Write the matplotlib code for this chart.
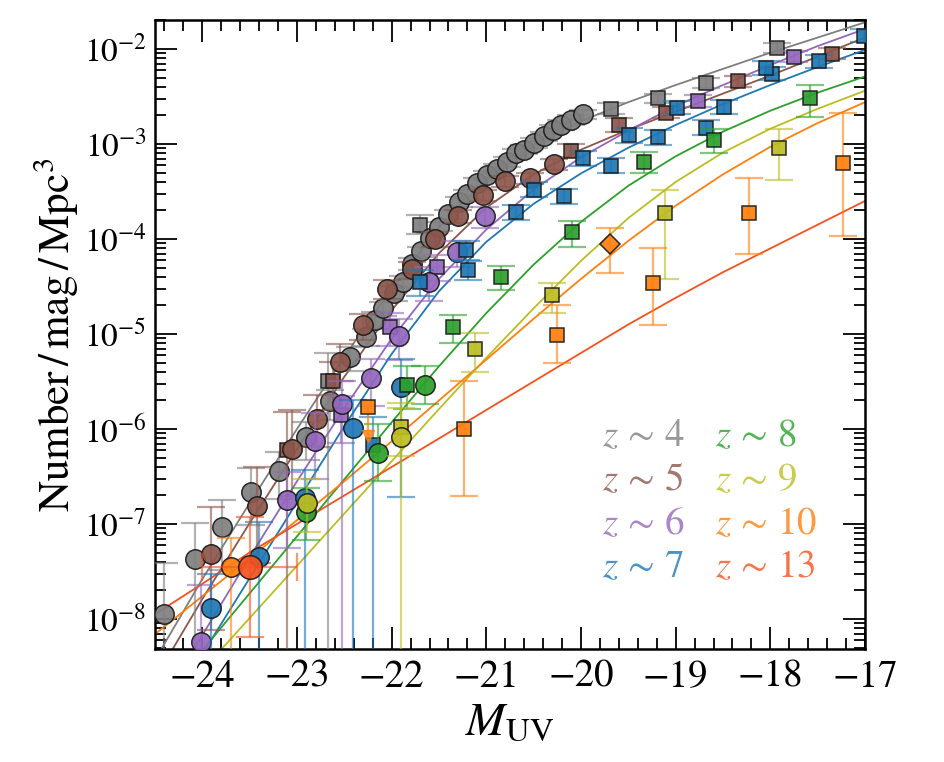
import numpy as np
import matplotlib
matplotlib.use("Agg")
import matplotlib.pyplot as plt
from matplotlib.ticker import FixedLocator, FuncFormatter, NullFormatter

plt.rcParams['font.family'] = 'STIXGeneral'
plt.rcParams['mathtext.fontset'] = 'stix'

# ----------------------------------------------------------------------
# data: M_UV and log10(phi); errors in dex (lo, hi). lo=5 -> bar runs off the bottom
# ----------------------------------------------------------------------
z4_circ_M = [-24.40, -24.08, -23.79, -23.49, -23.19, -22.90, -22.65, -22.44, -22.27, -22.18,
             -22.09, -21.98, -21.88, -21.79, -21.69, -21.59, -21.50, -21.40, -21.29, -21.20,
             -21.10, -20.99, -20.89, -20.78, -20.69, -20.60, -20.50, -20.39, -20.30, -20.21,
             -20.11, -19.98]
z4_circ_L = [-7.95, -7.37, -7.03, -6.66, -6.44, -6.08, -5.71, -5.24, -5.03, -4.85,
             -4.73, -4.57, -4.45, -4.26, -4.13, -3.99, -3.87, -3.74, -3.61, -3.53,
             -3.41, -3.33, -3.26, -3.19, -3.10, -3.06, -2.99, -2.92, -2.85, -2.80,
             -2.75, -2.69]
z4_circ_lo = [0.6, 5, 0.45, 0.35, 0.3, 0.25, 0.2, 0.15, 0.1, 0.1,
              0.08, 0.08, 0.07, 0.07, 0.06, 0.06, 0.05, 0.05, 0.05, 0.05,
              0.05, 0.05, 0.05, 0.05, 0.05, 0.05, 0.05, 0.05, 0.05, 0.05,
              0.05, 0.05]
z4_circ_hi = [0.54, 0.38, 0.28, 0.25, 0.2, 0.15, 0.12, 0.1, 0.08, 0.08,
              0.07, 0.07, 0.06, 0.06, 0.05, 0.05, 0.05, 0.05, 0.05, 0.05,
              0.05, 0.05, 0.05, 0.05, 0.05, 0.05, 0.05, 0.05, 0.05, 0.05,
              0.05, 0.05]
z4_sq_M = [-17.93, -18.68, -19.19, -19.68, -21.70, -22.67]
z4_sq_L = [-1.99, -2.36, -2.52, -2.63, -3.85, -5.50]
z4_sq_lo = [0.05, 0.05, 0.05, 0.06, 0.1, 5]
z4_sq_hi = [0.05, 0.05, 0.05, 0.06, 0.1, 0.3]

z5_circ_M = [-23.91, -23.42, -23.05, -22.79, -22.55, -22.30, -22.05, -21.79, -21.54, -21.30,
             -21.04, -20.80, -20.54, -20.29]
z5_circ_L = [-7.32, -6.81, -6.21, -5.89, -5.29, -4.91, -4.53, -4.32, -4.00, -3.76,
             -3.54, -3.39, -3.36, -3.21]
z5_circ_lo = [0.8, 0.6, 0.5, 0.3, 0.2, 0.15, 0.1, 0.1, 0.08, 0.07, 0.06, 0.06, 0.06, 0.06]
z5_circ_hi = [0.5, 0.41, 0.41, 0.25, 0.18, 0.12, 0.1, 0.08, 0.07, 0.06, 0.06, 0.05, 0.05, 0.05]
z5_sq_M = [-17.35, -18.34, -19.10, -19.60, -20.11, -22.62, -23.11]
z5_sq_L = [-2.05, -2.34, -2.67, -2.80, -3.07, -5.50, -6.22]
z5_sq_lo = [0.06, 0.06, 0.06, 0.07, 0.07, 0.3, 5]
z5_sq_hi = [0.06, 0.06, 0.06, 0.07, 0.07, 0.2, 0.4]

z6_circ_M = [-24.01, -23.11, -22.81, -22.52, -22.22, -21.92, -21.61, -21.31, -21.01]
z6_circ_L = [-8.24, -6.75, -6.13, -5.74, -5.46, -5.02, -4.45, -4.14, -3.76]
z6_circ_lo = [5, 0.5, 0.4, 5, 0.3, 0.25, 0.2, 0.15, 0.12]
z6_circ_hi = [0.6, 0.3, 0.3, 0.25, 0.2, 0.18, 0.15, 0.12, 0.1]
z6_sq_M = [-17.75, -18.76, -21.52, -22.02, -22.53]
z6_sq_L = [-2.08, -2.55, -4.29, -4.93, -5.85]
z6_sq_lo = [0.06, 0.06, 0.15, 0.2, 0.3]
z6_sq_hi = [0.06, 0.06, 0.12, 0.15, 0.2]

z7_circ_M = [-23.91, -23.40, -22.92, -22.41, -21.90]
z7_circ_L = [-7.88, -7.35, -6.73, -5.99, -5.56]
z7_circ_lo = [5, 5, 5, 5, 1.16]
z7_circ_hi = [0.35, 0.37, 0.3, 0.3, 0.3]
z7_sq_M = [-17.01, -17.49, -17.98, -18.05, -18.49, -18.68, -18.99, -19.19, -19.49, -19.68,
           -19.98, -20.18, -20.50, -20.69, -21.19, -21.22, -21.70, -22.20]
z7_sq_L = [-1.86, -2.13, -2.26, -2.20, -2.61, -2.83, -2.62, -2.93, -2.91, -3.23,
           -3.15, -3.55, -3.48, -3.72, -4.33, -4.12, -4.45, -6.17]
z7_sq_lo = [0.07, 0.07, 0.07, 0.07, 0.07, 0.08, 0.07, 0.08, 0.08, 0.08,
            0.08, 0.08, 0.08, 0.08, 0.1, 0.1, 0.15, 5]
z7_sq_hi = [0.07, 0.07, 0.07, 0.07, 0.07, 0.08, 0.07, 0.08, 0.08, 0.08,
            0.08, 0.08, 0.08, 0.08, 0.1, 0.1, 0.12, 0.3]

z8_circ_M = [-22.90, -22.14, -21.65]
z8_circ_L = [-6.87, -6.25, -5.54]
z8_circ_lo = [0.3, 0.3, 0.2]
z8_circ_hi = [0.25, 0.3, 0.2]
z8_sq_M = [-17.58, -18.59, -19.33, -20.10, -20.84, -21.35, -21.84]
z8_sq_L = [-2.52, -2.96, -3.19, -3.93, -4.40, -4.93, -5.54]
z8_sq_lo = [0.2, 0.14, 0.12, 0.15, 0.14, 0.16, 0.25]
z8_sq_hi = [0.14, 0.12, 0.1, 0.12, 0.12, 0.13, 0.2]

z9_circ_M = [-22.89, -21.90]
z9_circ_L = [-6.78, -6.08]
z9_circ_lo = [0.3, 5]
z9_circ_hi = [0.25, 0.3]
z9_sq_M = [-17.91, -19.11, -20.31, -21.12, -21.90]
z9_sq_L = [-3.04, -3.73, -4.59, -5.16, -5.98]
z9_sq_lo = [0.34, 0.69, 0.19, 0.24, 0.3]
z9_sq_hi = [0.2, 0.25, 0.13, 0.17, 0.25]

z10_sq_M = [-17.23, -18.23, -19.24, -20.25, -21.24]
z10_sq_L = [-3.20, -3.73, -4.46, -5.01, -6.00]
z10_sq_lo = [0.77, 0.43, 0.45, 0.30, 0.71]
z10_sq_hi = [0.53, 0.37, 0.36, 0.32, 0.50]
z10_lim_M = [-22.25]
z10_lim_L = [-5.77]
z10_dia_M = [-19.69]
z10_dia_L = [-4.05]
z10_dia_lo = [0.31]
z10_dia_hi = [0.17]
z10_circ_M = [-23.70]
z10_circ_L = [-7.45]
z10_circ_lo = [5]
z10_circ_hi = [0.3]

z13_M = [-23.50]
z13_L = [-7.45]
z13_lo = [0.74]
z13_hi = [0.52]
z13_xerr = [0.5]

# model curves (log10 phi at these magnitudes)
fit_M = [-24.5, -24.0, -23.5, -23.0, -22.5, -22.0, -21.5, -21.0, -20.5, -20.0,
         -19.5, -19.0, -18.5, -18.0, -17.5, -17.0]
fit_z4 = [-8.43, -7.58, -6.78, -6.00, -5.24, -4.52, -3.88, -3.37, -3.01, -2.76,
          -2.56, -2.38, -2.21, -2.04, -1.88, -1.72]
fit_z5 = [-8.63, -7.79, -6.99, -6.21, -5.45, -4.75, -4.15, -3.67, -3.32, -3.06,
          -2.85, -2.66, -2.47, -2.28, -2.08, -1.88]
fit_z6 = [-9.00, -8.17, -7.35, -6.55, -5.78, -5.05, -4.42, -3.90, -3.48, -3.14,
          -2.86, -2.60, -2.38, -2.17, -1.97, -1.79]
fit_z7 = [-9.17, -8.37, -7.57, -6.77, -5.97, -5.21, -4.55, -4.03, -3.63, -3.31,
          -3.04, -2.80, -2.58, -2.38, -2.19, -2.01]
fit_z8 = [-8.93, -8.33, -7.73, -7.13, -6.53, -5.93, -5.34, -4.78, -4.27, -3.82,
          -3.44, -3.13, -2.87, -2.65, -2.46, -2.29]
fit_z9 = [-9.09, -8.54, -7.99, -7.44, -6.89, -6.34, -5.79, -5.25, -4.73, -4.23,
          -3.78, -3.40, -3.09, -2.84, -2.63, -2.44]
fit_z10 = [-8.16, -7.76, -7.36, -6.96, -6.55, -6.13, -5.70, -5.27, -4.84, -4.42,
           -4.02, -3.65, -3.32, -3.03, -2.78, -2.56]
fit_z13 = [-7.95, -7.63, -7.30, -7.00, -6.70, -6.40, -6.10, -5.80, -5.50, -5.20,
           -4.90, -4.62, -4.35, -4.10, -3.85, -3.60]

labels = ['4', '5', '6', '7', '8', '9', '10', '13']
colors = ['#7f7f7f', '#8c564b', '#9467bd', '#1f77b4', '#2ca02c', '#bcbd22', '#ff7f0e', '#f4511e']


def draw_points(ax, M, L, lo, hi, color, marker, ms, z, xerr=None):
    M = np.array(M)
    phi = 10.0 ** np.array(L)
    ylo = phi - 10.0 ** (np.array(L) - np.array(lo))
    yhi = 10.0 ** (np.array(L) + np.array(hi)) - phi
    ax.errorbar(M, phi, yerr=[ylo, yhi], xerr=xerr, fmt='none', ecolor=color,
                elinewidth=1.6, capsize=10, capthick=1.6, alpha=0.6, zorder=z)
    ax.plot(M, phi, ls='none', marker=marker, ms=ms, mfc=color, mec='#1a1a1a',
            mew=1.1, alpha=0.92, zorder=z + 0.5)


fig = plt.figure(figsize=(9.44, 7.62), dpi=100)
ax = fig.add_axes([0.1642, 0.1483, 0.7521, 0.8255])

fits = [fit_z4, fit_z5, fit_z6, fit_z7, fit_z8, fit_z9, fit_z10, fit_z13]
for f, c in zip(fits, colors):
    ax.plot(fit_M, 10.0 ** np.array(f), color=c, lw=1.3, zorder=2)

CIRC = 14
SQ = 10.5

draw_points(ax, z4_sq_M, z4_sq_L, z4_sq_lo, z4_sq_hi, colors[0], 's', SQ, 3)
draw_points(ax, z4_circ_M, z4_circ_L, z4_circ_lo, z4_circ_hi, colors[0], 'o', CIRC, 3)
draw_points(ax, z5_sq_M, z5_sq_L, z5_sq_lo, z5_sq_hi, colors[1], 's', SQ, 4)
draw_points(ax, z5_circ_M, z5_circ_L, z5_circ_lo, z5_circ_hi, colors[1], 'o', CIRC, 4)
draw_points(ax, z6_sq_M, z6_sq_L, z6_sq_lo, z6_sq_hi, colors[2], 's', SQ, 5)
draw_points(ax, z6_circ_M, z6_circ_L, z6_circ_lo, z6_circ_hi, colors[2], 'o', CIRC, 5)
draw_points(ax, z7_sq_M, z7_sq_L, z7_sq_lo, z7_sq_hi, colors[3], 's', SQ, 6)
draw_points(ax, z7_circ_M, z7_circ_L, z7_circ_lo, z7_circ_hi, colors[3], 'o', CIRC, 6)
draw_points(ax, z8_sq_M, z8_sq_L, z8_sq_lo, z8_sq_hi, colors[4], 's', SQ, 7)
draw_points(ax, z8_circ_M, z8_circ_L, z8_circ_lo, z8_circ_hi, colors[4], 'o', CIRC, 7)
draw_points(ax, z9_sq_M, z9_sq_L, z9_sq_lo, z9_sq_hi, colors[5], 's', SQ, 8)
draw_points(ax, z9_circ_M, z9_circ_L, z9_circ_lo, z9_circ_hi, colors[5], 'o', CIRC, 8)
draw_points(ax, z10_sq_M, z10_sq_L, z10_sq_lo, z10_sq_hi, colors[6], 's', SQ, 9)
draw_points(ax, z10_dia_M, z10_dia_L, z10_dia_lo, z10_dia_hi, colors[6], 'D', 10, 9)
draw_points(ax, z10_circ_M, z10_circ_L, z10_circ_lo, z10_circ_hi, colors[6], 'o', CIRC, 9)
# upper limit
lim_phi = 10.0 ** np.array(z10_lim_L)
ax.errorbar(z10_lim_M, lim_phi, yerr=[lim_phi * 0.5, lim_phi * 0.0],
            fmt='none', ecolor=colors[6], elinewidth=1.6, alpha=0.7, zorder=9)
ax.plot(z10_lim_M, lim_phi * 0.5, ls='none', marker='v', ms=9, color=colors[6], alpha=0.8, zorder=9)
ax.plot(z10_lim_M, lim_phi, ls='none', marker='s', ms=SQ, mfc=colors[6], mec='#1a1a1a',
        mew=1.1, alpha=0.92, zorder=9.5)
draw_points(ax, z13_M, z13_L, z13_lo, z13_hi, colors[7], 'o', 17, 10, xerr=z13_xerr)

# axes
ax.set_xlim(-24.5, -17)
ax.set_ylim(10 ** -8.316, 10 ** -1.695)
ax.set_yscale('log')
ax.xaxis.set_major_locator(FixedLocator(np.arange(-24, -16.5, 1.0)))
ax.xaxis.set_minor_locator(FixedLocator(np.arange(-24.4, -16.9, 0.2)))
ymaj = [10.0 ** e for e in range(-8, -1)]
ymin = [k * 10.0 ** e for e in range(-9, -1) for k in range(2, 10)]
ax.yaxis.set_major_locator(FixedLocator(ymaj))
ax.yaxis.set_minor_locator(FixedLocator(ymin))
ax.yaxis.set_minor_formatter(NullFormatter())
ax.yaxis.set_major_formatter(FuncFormatter(lambda v, p: r'$10^{%d}$' % round(np.log10(v))))
ax.tick_params(which='both', direction='in', top=True, right=True, width=1.3)
ax.tick_params(axis='x', which='major', labelsize=28, pad=8)
ax.tick_params(axis='y', which='major', labelsize=24, pad=6)
ax.tick_params(which='major', length=16)
ax.tick_params(which='minor', length=8)
for s in ax.spines.values():
    s.set_linewidth(1.8)

ax.set_xlabel(r'$M_{\rm UV}$', fontsize=34)
ax.xaxis.set_label_coords(0.5, -0.084)
ax.set_ylabel(r'Number$\,/\,$mag$\,/\,$Mpc$^3$', fontsize=31)
ax.yaxis.set_label_coords(-0.104, 0.5)

# colour key
col_x = [0.630, 0.789]
row_y = [0.337, 0.267, 0.197, 0.129]
for i, (lab, c) in enumerate(zip(labels, colors)):
    ax.text(col_x[i // 4], row_y[i % 4], r'$z\,\sim\,%s$' % lab, color=c, alpha=0.8,
            fontsize=28, transform=ax.transAxes, va='center', ha='left')

fig.savefig('out.png', dpi=100)
